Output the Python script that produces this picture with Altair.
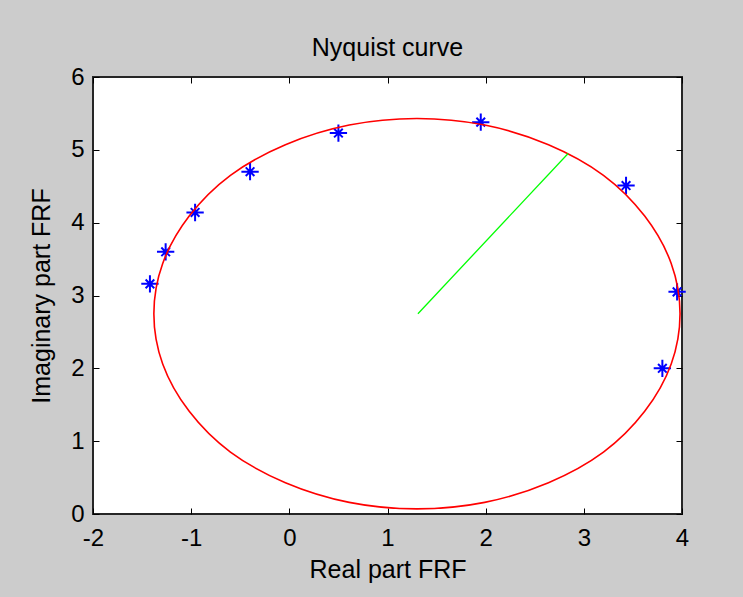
import altair as alt
import pandas as pd

# ---- data ----
# fitted circle
curve_re = [3.98, 3.89, 3.62, 3.20, 2.64, 1.99, 1.30, 0.61, -0.04, -0.60, -1.02, -1.29,
            -1.38, -1.29, -1.02, -0.60, -0.04, 0.61, 1.30, 1.99, 2.64, 3.20, 3.62, 3.89]
curve_im = [2.75, 3.44, 4.09, 4.65, 5.07, 5.34, 5.43, 5.34, 5.07, 4.65, 4.09, 3.44,
            2.75, 2.06, 1.41, 0.85, 0.43, 0.16, 0.07, 0.16, 0.43, 0.85, 1.41, 2.06]
# measured FRF points (blue stars)
meas_re = [-1.42, -1.26, -0.96, -0.40, 0.50, 1.95, 3.43, 3.95, 3.80]
meas_im = [3.16, 3.60, 4.14, 4.70, 5.23, 5.38, 4.51, 3.05, 2.00]
# radius line (green)
radius_re = [1.31, 2.84]
radius_im = [2.75, 4.95]
# tick values
x_ticks = [-2, -1, 0, 1, 2, 3, 4]
y_ticks = [0, 1, 2, 3, 4, 5, 6]

curve_df = pd.DataFrame({"re": curve_re, "im": curve_im, "k": list(range(len(curve_re)))})
meas_df = pd.DataFrame({"re": meas_re, "im": meas_im})
rad_df = pd.DataFrame({"re": radius_re, "im": radius_im, "k": [0, 1]})

W, H = 589, 437
FONT = "Liberation Sans"
xs = alt.Scale(domain=[-2, 4], nice=False, zero=False)
ys = alt.Scale(domain=[0, 6], nice=False, zero=False)

common = dict(grid=False, domain=False, labelFont=FONT, titleFont=FONT,
              labelColor="black", titleColor="black", tickColor="black",
              labelFlush=False, labelOverlap=False, labelBound=False)

# axes carrying labels + titles
x_main = alt.Axis(orient="bottom", values=x_ticks, ticks=False, tickSize=0,
                  labelFontSize=24, labelPadding=31, labelBaseline="alphabetic",
                  labelExpr="'' + datum.value",
                  title="Real part FRF", titleFontSize=25, titleFontWeight="normal",
                  titleX=W / 2, titleY=63, titleBaseline="alphabetic", titleAlign="center",
                  **common)
y_main = alt.Axis(orient="left", values=y_ticks, ticks=False, tickSize=0,
                  labelFontSize=24, labelPadding=9, labelExpr="'' + datum.value",
                  title="Imaginary part FRF", titleFontSize=25, titleFontWeight="normal",
                  titleX=-44, titleY=H / 2, titleAngle=270, titleBaseline="alphabetic",
                  titleAlign="center", **common)
# inward ticks on all four sides
x_tick_bottom = alt.Axis(orient="top", offset=-H, values=x_ticks, labels=False,
                         ticks=True, tickSize=6, tickWidth=1, **common)
x_tick_top = alt.Axis(orient="bottom", offset=-H, values=x_ticks, labels=False,
                      ticks=True, tickSize=6, tickWidth=1, **common)
y_tick_left = alt.Axis(orient="right", offset=-W, values=y_ticks, labels=False,
                       ticks=True, tickSize=6, tickWidth=1, **common)
y_tick_right = alt.Axis(orient="left", offset=-W, values=y_ticks, labels=False,
                        ticks=True, tickSize=6, tickWidth=1, **common)

star = "M-1,0L1,0M0,-1L0,1M-0.5,-0.5L0.5,0.5M-0.5,0.5L0.5,-0.5"

stars = alt.Chart(meas_df).mark_point(
    shape=star, size=300, color="#0000ff", strokeWidth=2, filled=False, opacity=1
).encode(
    x=alt.X("re:Q", scale=xs, axis=x_tick_top, title=None),
    y=alt.Y("im:Q", scale=ys, axis=y_tick_right, title=None),
)

curve = alt.Chart(curve_df).mark_line(
    color="#ff0000", strokeWidth=1.6, interpolate="cardinal-closed"
).encode(
    x=alt.X("re:Q", scale=xs, axis=x_main),
    y=alt.Y("im:Q", scale=ys, axis=y_main),
    order="k:Q",
)

radius = alt.Chart(rad_df).mark_line(color="#00ff00", strokeWidth=1.3).encode(
    x=alt.X("re:Q", scale=xs, axis=x_tick_bottom, title=None),
    y=alt.Y("im:Q", scale=ys, axis=y_tick_left, title=None),
    order="k:Q",
)

chart = alt.layer(stars, curve, radius).resolve_axis(
    x="independent", y="independent"
).properties(
    width=W, height=H,
    title=alt.TitleParams("Nyquist curve", font=FONT, fontSize=25, fontWeight="normal",
                          color="black", anchor="middle", frame="group",
                          baseline="alphabetic", offset=-16),
    autosize=alt.AutoSizeParams(type="none"),
    padding={"left": 93, "top": 77, "right": 61, "bottom": 83},
).configure(background="#cccccc").configure_view(
    fill="white", stroke="#262626", strokeWidth=2
)

chart.save("out.html", embed_options={"renderer": "svg", "actions": False})
